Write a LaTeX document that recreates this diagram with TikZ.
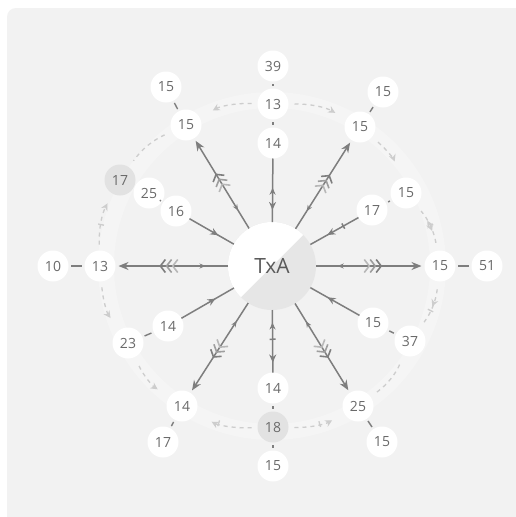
\documentclass[tikz,border=0pt]{standalone}
\usepackage{fontspec}
\setmainfont{Open Sans}
\usetikzlibrary{arrows.meta,decorations.markings}
\definecolor{panel}{HTML}{F2F2F2}
\definecolor{ringc}{HTML}{F5F5F5}
\definecolor{gn}{HTML}{E2E2E2}
\definecolor{half}{HTML}{E6E6E6}
\definecolor{tc}{HTML}{6A6A6A}
\definecolor{lc}{HTML}{7E7E7E}
\definecolor{dc}{HTML}{CDCDCD}
\begin{document}
\begin{tikzpicture}[x=1pt,y=1pt,
  num/.style={circle, fill=white, minimum size=31pt, inner sep=0pt, outer sep=0pt, text=tc, font=\fontsize{14}{16}\selectfont},
  gnum/.style={num, fill=gn},
  hub/.style={circle, minimum size=88pt, inner sep=0pt, outer sep=0pt, text=tc!85!black, font=\fontsize{21}{24}\selectfont},
  pair/.style={draw=lc, line width=1.4pt, shorten <=2.5pt, shorten >=2.5pt},
  outarr/.style={draw=lc, line width=1.5pt, -{Stealth[length=10pt,width=8pt]}, shorten >=3pt,
    postaction={decorate, decoration={markings,
      mark=at position 0.2 with {\arrowreversed[color=lc]{Stealth[length=6pt,width=5pt]}},
      mark=at position 0.50 with {\arrow[color=lc!55]{Straight Barb[length=5pt,width=13pt,line width=1.6pt]}},
      mark=at position 0.555 with {\arrow[color=lc!75]{Straight Barb[length=5pt,width=13pt,line width=1.6pt]}},
      mark=at position 0.61 with {\arrow[color=lc]{Straight Barb[length=5pt,width=13pt,line width=1.6pt]}}}}},
  inarr/.style={draw=lc, line width=1.5pt,
    postaction={decorate, decoration={markings,
      mark=at position 0.65 with {\arrow[color=lc]{Stealth[length=8pt,width=7pt]}}}}},
  vline/.style={draw=lc, line width=1.5pt},
  ring/.style={draw=dc, line width=1.3pt, dash pattern=on 4pt off 4pt, -{Stealth[length=7pt,width=7pt]}},
  ringna/.style={draw=dc, line width=1.3pt, dash pattern=on 4pt off 4pt}
]
\useasboundingbox (0,0) rectangle (515,-517);
\fill[white] (0,0) rectangle (515,-517);
\fill[panel, rounded corners=9pt] (7,-8) rectangle (526,-528);
\draw[ringc, line width=16pt] (272,-266) circle (166);

% hub
\fill[half] (272,-266) circle (44);
\fill[white] (272,-266) ++(45:44) arc[start angle=45, end angle=225, radius=44] -- cycle;
\node[hub] (c) at (272,-266) {TxA};

% nodes
\node[num] (n39) at (273,-66) {39};
\node[num] (n13T) at (273,-104) {13};
\node[num] (n14T) at (273,-143) {14};
\node[num] (n15ULo) at (166,-87) {15};
\node[num] (n15UL) at (186,-125) {15};
\node[num] (n15URo) at (383,-92) {15};
\node[num] (n15UR) at (360,-127) {15};
\node[gnum] (n17g) at (120,-180) {17};
\node[num] (n25) at (149,-193) {25};
\node[num] (n16) at (176,-211) {16};
\node[num] (n17R) at (372,-210) {17};
\node[num] (n15Ro) at (406,-193) {15};
\node[num] (n10) at (53,-266) {10};
\node[num] (n13L) at (100,-266) {13};
\node[num] (n15R) at (440,-266) {15};
\node[num] (n51) at (487,-266) {51};
\node[num] (n14L) at (168,-326) {14};
\node[num] (n23) at (128,-343) {23};
\node[num] (n15LR) at (373,-323) {15};
\node[num] (n37) at (410,-341) {37};
\node[num] (n14LL) at (182,-406) {14};
\node[num] (n17b) at (163,-442) {17};
\node[num] (n14B) at (273,-388) {14};
\node[gnum] (n18) at (273,-427) {18};
\node[num] (n15B) at (273,-466) {15};
\node[num] (n25LR) at (358,-406) {25};
\node[num] (n15LRo) at (382,-442) {15};

% short pair connectors
\draw[pair] (n39) -- (n13T);
\draw[pair] (n13T) -- (n14T);
\draw[pair] (n15ULo) -- (n15UL);
\draw[pair] (n15URo) -- (n15UR);
\draw[pair] (n25) -- (n16);
\draw[pair] (n17R) -- (n15Ro);
\draw[pair] (n10) -- (n13L);
\draw[pair] (n15R) -- (n51);
\draw[pair] (n14L) -- (n23);
\draw[pair] (n15LR) -- (n37);
\draw[pair] (n14LL) -- (n17b);
\draw[pair] (n14B) -- (n18);
\draw[pair] (n18) -- (n15B);
\draw[pair] (n25LR) -- (n15LRo);

% spokes outward
\draw[outarr] (c) -- (n15UL);
\draw[outarr] (c) -- (n15UR);
\draw[outarr] (c) -- (n13L);
\draw[outarr] (c) -- (n15R);
\draw[outarr] (c) -- (n14LL);
\draw[outarr] (c) -- (n25LR);
% spokes inward
\draw[inarr] (n16) -- (c);
\draw[inarr, postaction={decorate, decoration={markings,
   mark=at position 0.33 with {\arrow[color=lc]{Bar[width=6pt]}}}}] (n17R) -- (c);
\draw[inarr] (n14L) -- (c);
\draw[inarr] (n15LR) -- (c);
% vertical spokes
\draw[vline, postaction={decorate, decoration={markings,
   mark=at position 0.46 with {\arrowreversed[color=lc]{Stealth[length=7pt,width=6pt]}},
   mark=at position 0.81 with {\arrow[color=lc]{Stealth[length=8pt,width=7pt]}}}}] (n14T) -- (c);
\draw[vline, postaction={decorate, decoration={markings,
   mark=at position 0.2 with {\arrowreversed[color=lc]{Stealth[length=7pt,width=6pt]}},
   mark=at position 0.48 with {\arrow[color=lc]{Bar[width=6pt]}},
   mark=at position 0.84 with {\arrow[color=lc]{Stealth[length=8pt,width=7pt]}}}}] (c) -- (n14B);

% dashed ring arcs
\draw[ring, shorten <=6pt, shorten >=13pt] (n13T) to[bend left=15] (n15UR);
\draw[ring, shorten <=6pt, shorten >=15pt] (n13T) to[bend right=15] (n15UL);
\draw[ringna, shorten <=8pt, shorten >=8pt] (n15UL) to[bend right=15] (n17g);
\draw[ring, shorten <=6pt, shorten >=11pt, postaction={decorate, decoration={markings,
   mark=at position 0.45 with {\arrow[color=dc]{Bar[width=6pt]}}}}] (n13L) to[bend left=15] (n17g);
\draw[ring, shorten <=6pt, shorten >=15pt] (n13L) to[bend right=15] (n23);
\draw[ring, shorten <=10pt, shorten >=14pt] (n23) to[bend right=15] (n14LL);
\draw[ring, shorten <=6pt, shorten >=18pt, postaction={decorate, decoration={markings,
   mark=at position 0.62 with {\arrow[color=dc]{Bar[width=6pt]}}}}] (n18) to[bend left=15] (n14LL);
\draw[ring, shorten <=6pt, shorten >=14pt, postaction={decorate, decoration={markings,
   mark=at position 0.55 with {\arrow[color=dc]{Bar[width=6pt]}}}}] (n18) to[bend right=15] (n25LR);
\draw[ringna, shorten <=8pt, shorten >=10pt] (n25LR) to[bend right=15] (n37);
\draw[ringna, shorten <=8pt, shorten >=8pt, postaction={decorate, decoration={markings,
   mark=at position 0.5 with {\arrow[color=dc]{Stealth[length=7pt,width=7pt]}},
   mark=at position 0.6 with {\arrow[color=dc]{Bar[width=6pt]}}}}] (n15R) to[bend left=15] (n37);
\draw[ringna, shorten <=8pt, shorten >=8pt, postaction={decorate, decoration={markings,
   mark=at position 0.4 with {\arrowreversed[color=dc]{Stealth[length=7pt,width=7pt]}},
   mark=at position 0.62 with {\arrow[color=dc]{Stealth[length=7pt,width=7pt]}}}}] (n15R) to[bend right=15] (n15Ro);
\draw[ring, shorten <=8pt, shorten >=18pt] (n15UR) to[bend left=15] (n15Ro);
\end{tikzpicture}
\end{document}
